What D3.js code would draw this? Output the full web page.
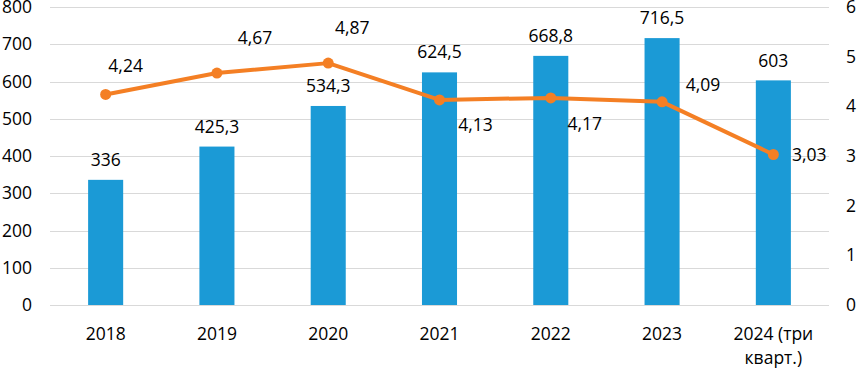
<!DOCTYPE html>
<html lang="ru">
<head>
<meta charset="utf-8">
<title>Chart</title>
<script src="https://d3js.org/d3.v7.min.js"></script>
<style>
  body { margin: 0; background: #fff; }
  svg text { font-family: "Open Sans", sans-serif; font-size: 17.5px; fill: #000; }
</style>
</head>
<body>
<svg width="858" height="368"></svg>
<script>
// data
const years = ["2018", "2019", "2020", "2021", "2022", "2023", "2024 (три кварт.)"];
const yearLines = [["2018"], ["2019"], ["2020"], ["2021"], ["2022"], ["2023"], ["2024 (три", "кварт.)"]];
const barValues = [336, 425.3, 534.3, 624.5, 668.8, 716.5, 603];
const lineValues = [4.24, 4.67, 4.87, 4.13, 4.17, 4.09, 3.03];
const leftTicks = [0, 100, 200, 300, 400, 500, 600, 700, 800];
const rightTicks = [0, 1, 2, 3, 4, 5, 6];
// where each line label sits relative to its point [dx, dy]
const lineLabelOffset = [[20, -29], [38, -35], [24, -35], [36, 25], [34, 26], [41, -17], [36, 0]];

const svg = d3.select("svg");
const plotL = 50, plotR = 829, plotT = 7, plotB = 305;

const x = d3.scaleBand().domain(years).range([plotL, plotR])
  .paddingInner(0.685).paddingOuter(0.3425);
const yL = d3.scaleLinear().domain([0, 800]).range([plotB, plotT]);
const yR = d3.scaleLinear().domain([0, 6]).range([plotB, plotT]);
const fmt = v => String(v).replace(".", ",");

// gridlines
svg.selectAll("line.grid").data(leftTicks).enter().append("line")
  .attr("class", "grid")
  .attr("x1", plotL).attr("x2", plotR)
  .attr("y1", d => Math.round(yL(d))).attr("y2", d => Math.round(yL(d)))
  .attr("stroke", "#d9d9d9")
  .attr("stroke-width", 1)
  .attr("shape-rendering", "crispEdges");

// left axis
const axL = svg.append("g").attr("transform", "translate(" + 32 + ",0)")
  .call(d3.axisLeft(yL).tickValues(leftTicks).tickSize(0).tickPadding(0).tickFormat(d3.format("d")));
axL.select(".domain").remove();
axL.selectAll("text").style("font-size", "17.5px").style("font-family", "'Open Sans', sans-serif");

// right axis
const axR = svg.append("g").attr("transform", "translate(" + 846 + ",0)")
  .call(d3.axisRight(yR).tickValues(rightTicks).tickSize(0).tickPadding(0).tickFormat(d3.format("d")));
axR.select(".domain").remove();
axR.selectAll("text").style("font-size", "17.5px").style("font-family", "'Open Sans', sans-serif");

// bars
svg.selectAll("rect.bar").data(barValues).enter().append("rect")
  .attr("class", "bar")
  .attr("x", (d, i) => x(years[i]))
  .attr("width", x.bandwidth())
  .attr("y", d => yL(d))
  .attr("height", d => yL(0) - yL(d))
  .attr("fill", "#1b9ad6");

// bar labels
svg.selectAll("text.barlab").data(barValues).enter().append("text")
  .attr("class", "barlab")
  .attr("x", (d, i) => x(years[i]) + x.bandwidth() / 2)
  .attr("y", d => yL(d) - 20)
  .attr("dy", "0.35em")
  .attr("text-anchor", "middle")
  .text(fmt);

// x labels
const xl = svg.selectAll("text.xlab").data(yearLines).enter().append("text")
  .attr("class", "xlab")
  .attr("x", (d, i) => x(years[i]) + x.bandwidth() / 2)
  .attr("y", 340)
  .attr("text-anchor", "middle");
xl.selectAll("tspan").data(d => d).enter().append("tspan")
  .attr("x", function() { return this.parentNode.getAttribute("x"); })
  .attr("dy", (d, i) => i === 0 ? 0 : 24)
  .text(d => d);

// line
const cx = i => x(years[i]) + x.bandwidth() / 2;
const line = d3.line().x((d, i) => cx(i)).y(d => yR(d));
svg.append("path").datum(lineValues)
  .attr("d", line)
  .attr("fill", "none")
  .attr("stroke", "#f47f24")
  .attr("stroke-width", 4)
  .attr("stroke-linejoin", "round");

svg.selectAll("circle.pt").data(lineValues).enter().append("circle")
  .attr("class", "pt")
  .attr("cx", (d, i) => cx(i))
  .attr("cy", d => yR(d))
  .attr("r", 5.5)
  .attr("fill", "#f47f24");

svg.selectAll("text.linelab").data(lineValues).enter().append("text")
  .attr("class", "linelab")
  .attr("x", (d, i) => cx(i) + lineLabelOffset[i][0])
  .attr("y", (d, i) => yR(d) + lineLabelOffset[i][1])
  .attr("dy", "0.35em")
  .attr("text-anchor", "middle")
  .text(fmt);
</script>
</body>
</html>
